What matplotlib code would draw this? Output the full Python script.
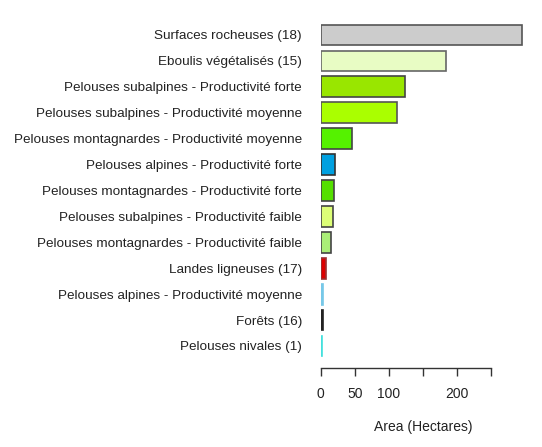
import matplotlib
matplotlib.use("Agg")
import matplotlib.pyplot as plt

categories = [
    "Surfaces rocheuses (18)",
    "Eboulis végétalisés (15)",
    "Pelouses subalpines - Productivité forte",
    "Pelouses subalpines - Productivité moyenne",
    "Pelouses montagnardes - Productivité moyenne",
    "Pelouses alpines - Productivité forte",
    "Pelouses montagnardes - Productivité forte",
    "Pelouses subalpines - Productivité faible",
    "Pelouses montagnardes - Productivité faible",
    "Landes ligneuses (17)",
    "Pelouses alpines - Productivité moyenne",
    "Forêts (16)",
    "Pelouses nivales (1)",
]
areas = [295, 184, 124, 111.5, 46.5, 20.5, 19.5, 18.5, 15, 8.3, 3.9, 3.4, 2.0]
colors = ["#cccccc", "#e8fcc4", "#99e600", "#aaff00", "#55f200", "#00a0e0",
          "#55e000", "#ddff77", "#aaee77", "#dd0000", "#77c8e8", "#222222", "#44e0dd"]
edges = ["#555555", "#666666", "#444444", "#555555", "#444444", "#333333",
         "#444444", "#444444", "#444444", "#993333", "#77c8e8", "#222222", "#44e0dd"]
xticks = [0, 50, 100, 150, 200, 250]
xticklabels = ["0", "50", "100", "", "200", ""]
xlabel = "Area (Hectares)"

plt.rcParams["font.family"] = ["Liberation Sans", "DejaVu Sans"]

W, H = 542, 447
fig = plt.figure(figsize=(W / 100, H / 100), dpi=100)
x0 = 320.7
pxu = 0.681
ax = fig.add_axes([x0 / W, (H - 368) / H, 300 * pxu / W, 346 / H])

pos = list(range(len(categories)))
ax.barh(pos, areas, height=0.8, color=colors, edgecolor=edges, linewidth=1.2)
ax.set_xlim(0, 300)
ax.set_ylim(12.85, -0.50)

for s in ["top", "right", "left"]:
    ax.spines[s].set_visible(False)
ax.spines["bottom"].set_bounds(0, 250)
ax.spines["bottom"].set_color("#333333")
ax.spines["bottom"].set_linewidth(1.0)

ax.set_yticks(pos)
ax.set_yticklabels(categories, fontsize=9.7, color="#222222")
ax.tick_params(axis="y", length=0, pad=13.5)

ax.set_xticks(xticks)
ax.set_xticklabels(xticklabels, fontsize=10, color="#222222")
ax.tick_params(axis="x", length=6, width=1.0, color="#333333", pad=7.5)
ax.set_xlabel(xlabel, fontsize=10, color="#222222", labelpad=14)

fig.savefig("out.png", dpi=100)
